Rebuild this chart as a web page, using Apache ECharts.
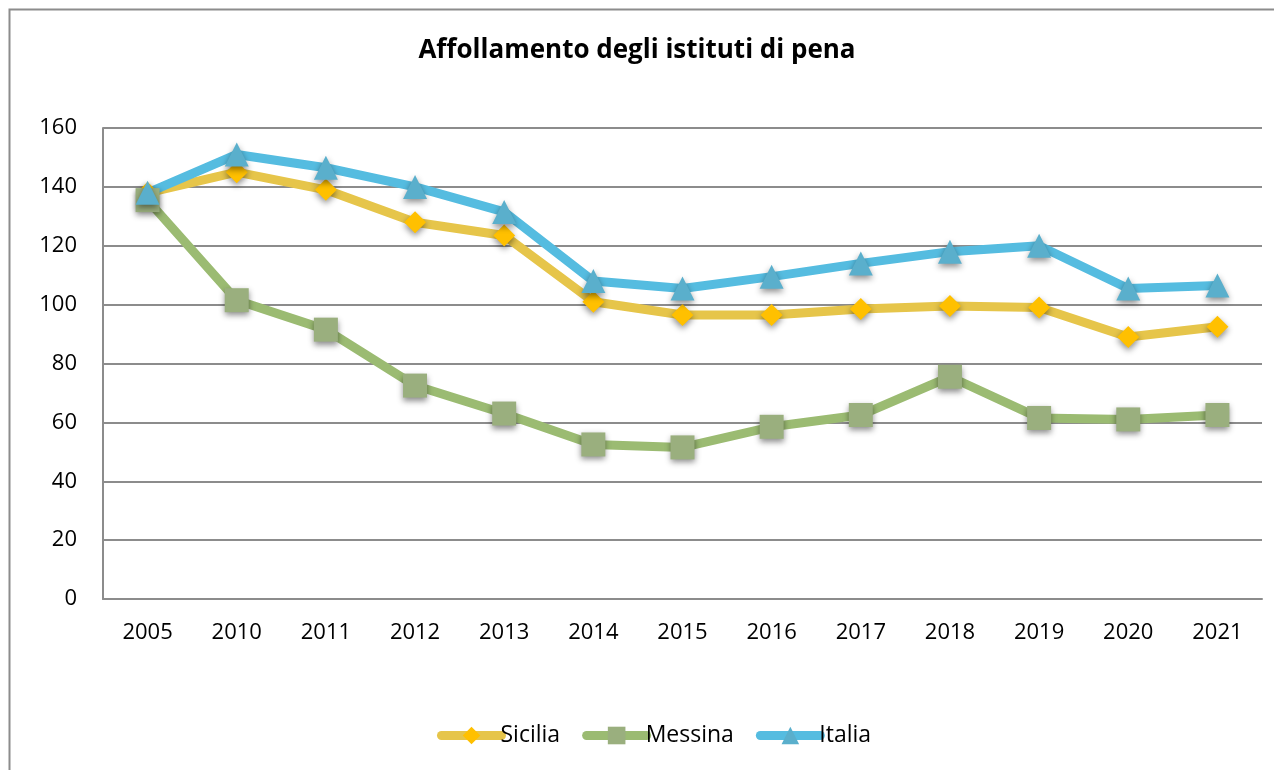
<!DOCTYPE html>
<html>
<head>
<meta charset="utf-8">
<script src="https://cdn.jsdelivr.net/npm/echarts@6/dist/echarts.min.js"></script>
<style>
  html, body { margin: 0; padding: 0; background: #fff; }
  #myecharts { width: 1274px; height: 770px; }
</style>
</head>
<body>
<div id="myecharts"></div>
<script>
// dati
var anni = ['2005', '2010', '2011', '2012', '2013', '2014', '2015', '2016', '2017', '2018', '2019', '2020', '2021'];
var sicilia = [138, 145, 139, 128, 123.5, 101, 96.5, 96.5, 98.5, 99.5, 99, 89, 92.5];
var messina = [135.5, 101.5, 91.5, 72.5, 63, 52.5, 51.5, 58.5, 62.5, 75.5, 61.5, 61, 62.5];
var italia = [138, 151, 146.5, 140, 131.5, 108, 105.5, 109.5, 114, 118, 120, 105.5, 106.5];

var font = 'Open Sans, Liberation Sans, sans-serif';

function serie(nome, dati, lineColor, markColor, symbol, size) {
    return {
        name: nome,
        type: 'line',
        data: dati,
        symbol: symbol,
        symbolSize: size,
        lineStyle: { color: lineColor, width: 9 },
        itemStyle: {
            color: markColor,
            shadowColor: 'rgba(0,0,0,0.45)',
            shadowBlur: 6,
            shadowOffsetY: 3
        },
        emphasis: { disabled: true },
        z: 3
    };
}

var myChart = echarts.init(document.getElementById('myecharts'));
var option = {
    animation: false,
    title: {
        text: 'Affollamento degli istituti di pena',
        left: 'center',
        top: 33,
        textStyle: { fontFamily: font, fontSize: 26, fontWeight: 'bold', color: '#000' }
    },
    graphic: [{
        type: 'rect',
        shape: { x: 9.5, y: 9.5, width: 1300, height: 800 },
        style: { fill: 'none', stroke: '#8c8c8c', lineWidth: 2 },
        silent: true
    }],
    legend: {
        bottom: 18,
        left: 432,
        itemWidth: 60,
        itemHeight: 22,
        itemGap: 22,
        lineStyle: { width: 9, cap: 'round' },
        itemStyle: { shadowBlur: 0, shadowOffsetY: 0 },
        textStyle: { fontFamily: font, fontSize: 23, color: '#000', padding: [0, 0, 0, -6] },
        data: ['Sicilia', 'Messina', 'Italia']
    },
    grid: { left: 103, right: 12, top: 128, bottom: 171 },
    xAxis: {
        type: 'category',
        data: anni,
        boundaryGap: true,
        axisLine: { lineStyle: { color: '#8c8c8c', width: 2 } },
        axisTick: { show: false },
        axisLabel: { fontFamily: font, fontSize: 22, color: '#000', margin: 23 }
    },
    yAxis: {
        type: 'value',
        min: 0,
        max: 160,
        interval: 20,
        axisLine: { show: true, lineStyle: { color: '#8c8c8c', width: 2 } },
        axisTick: { show: false },
        axisLabel: { fontFamily: font, fontSize: 22, color: '#000', margin: 26 },
        splitLine: { lineStyle: { color: '#8c8c8c', width: 2 } }
    },
    series: [
        serie('Sicilia', sicilia, '#E6C54A', '#FFC000', 'diamond', 22),
        serie('Messina', messina, '#9BBB72', '#9AAF7E', 'rect', 24),
        serie('Italia', italia, '#55BCE0', '#5AAFCC', 'triangle', 24)
    ]
};
myChart.setOption(option);
</script>
</body>
</html>
